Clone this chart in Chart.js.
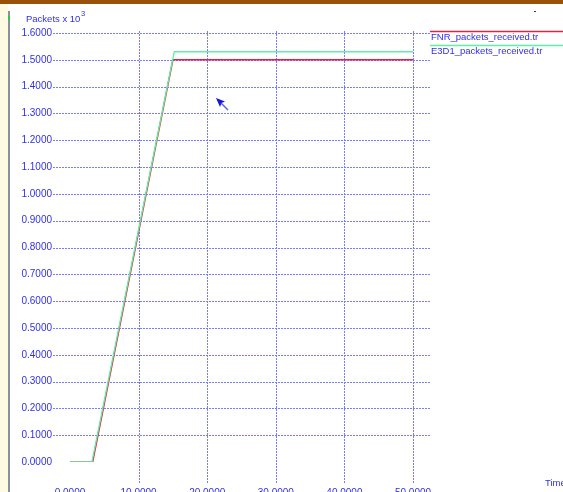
<!DOCTYPE html>
<html>
<head>
<meta charset="utf-8">
<script src="https://cdn.jsdelivr.net/npm/chart.js@4.4.1/dist/chart.umd.min.js"></script>
<style>
  html, body { margin: 0; padding: 0; background: #ffffff; overflow: hidden; }
  canvas { display: block; }
</style>
</head>
<body>
<canvas id="plot" width="563" height="492"></canvas>
<script>
// Received-packet traces (packets in thousands) against simulation time
const seriesNames = ['FNR_packets_received.tr', 'E3D1_packets_received.tr'];
const fnrTime = [0, 3.3, 15.0, 50];
const fnrPackets = [0, 0, 1.5, 1.5];
const e3d1Time = [0, 3.2, 15.2, 50];
const e3d1Packets = [0, 0, 1.53, 1.53];

// Axis tick values
const xTicks = [0, 10, 20, 30, 40, 50];
const yTicks = [0, 0.1, 0.2, 0.3, 0.4, 0.5, 0.6, 0.7, 0.8, 0.9, 1.0, 1.1, 1.2, 1.3, 1.4, 1.5, 1.6];

const TEXT_BLUE = '#3030e8';
const GRID_BLUE = '#7a7aff';
const FONT = '"Liberation Sans", Arial, sans-serif';

const toPoints = (xs, ys) => xs.map((x, i) => ({ x: x, y: ys[i] }));

// Window frame, dotted grid, legend, axis captions and pointer
const decor = {
  id: 'decor',
  beforeDraw(chart) {
    const ctx = chart.ctx;
    ctx.save();
    ctx.fillStyle = '#ffffff';
    ctx.fillRect(0, 0, chart.width, chart.height);
    // brown title strip
    ctx.fillStyle = '#9a520a';
    ctx.fillRect(0, 0, chart.width, 4);
    // cream margin and grey frame edge on the left
    ctx.fillStyle = '#fffbe2';
    ctx.fillRect(0, 4, 8, chart.height - 4);
    ctx.fillStyle = '#8b929b';
    ctx.fillRect(8, 11, 2, chart.height - 11);
    ctx.fillStyle = '#22cc44';
    ctx.fillRect(8, 16, 2, 4);
    ctx.restore();
  },
  beforeDatasetsDraw(chart) {
    const ctx = chart.ctx;
    const xs = chart.scales.x, ys = chart.scales.y;
    const area = chart.chartArea;
    ctx.save();
    ctx.strokeStyle = GRID_BLUE;
    ctx.lineWidth = 1;
    ctx.setLineDash([2, 1]);
    yTicks.forEach(v => {
      if (v === 0) return;
      const py = Math.round(ys.getPixelForValue(v)) + 0.5;
      ctx.beginPath();
      ctx.moveTo(area.left - 17, py);
      ctx.lineTo(area.right + 17, py);
      ctx.stroke();
    });
    xTicks.forEach(v => {
      if (v === 0) return;
      const px = Math.round(xs.getPixelForValue(v)) + 0.5;
      ctx.beginPath();
      ctx.moveTo(px, area.top - 2);
      ctx.lineTo(px, area.bottom + 21);
      ctx.stroke();
    });
    ctx.restore();
  },
  afterDraw(chart) {
    const ctx = chart.ctx;
    const area = chart.chartArea;
    ctx.save();
    // axis captions
    ctx.fillStyle = TEXT_BLUE;
    ctx.textBaseline = 'alphabetic';
    ctx.textAlign = 'left';
    ctx.font = '9.5px ' + FONT;
    ctx.fillText('Packets x 10', 26, 22);
    const w = ctx.measureText('Packets x 10').width;
    ctx.font = '7.5px ' + FONT;
    ctx.fillText('3', 26 + w + 0.5, 16);
    ctx.font = '9.5px ' + FONT;
    ctx.fillText('Time', 545, 486);

    // legend: one line sample and name per series
    const legendX = area.right + 17;
    chart.data.datasets.forEach((ds, i) => {
      const lineY = 31 + i * 14;
      ctx.strokeStyle = ds.borderColor;
      ctx.lineWidth = 1.5;
      ctx.beginPath();
      ctx.moveTo(legendX, lineY + 0.5);
      ctx.lineTo(chart.width, lineY + 0.5);
      ctx.stroke();
      ctx.fillStyle = TEXT_BLUE;
      ctx.font = '9.5px ' + FONT;
      ctx.textBaseline = 'middle';
      ctx.fillText(ds.label, legendX + 1, lineY + 6);
    });

    // small dash near the top right
    ctx.fillStyle = '#2222dd';
    ctx.fillRect(534, 11, 2, 1);

    // mouse pointer
    ctx.fillStyle = '#1414dd';
    ctx.beginPath();
    ctx.moveTo(216, 98);
    ctx.lineTo(225, 101.5);
    ctx.lineTo(221.5, 103);
    ctx.lineTo(220, 107);
    ctx.closePath();
    ctx.fill();
    ctx.strokeStyle = '#5a5af0';
    ctx.lineWidth = 1.4;
    ctx.beginPath();
    ctx.moveTo(221, 103);
    ctx.lineTo(228, 110);
    ctx.stroke();
    ctx.restore();
  }
};

new Chart(document.getElementById('plot'), {
  type: 'line',
  data: {
    datasets: [
      {
        label: seriesNames[0],
        data: toPoints(fnrTime, fnrPackets),
        borderColor: '#e8203c',
        borderWidth: 1.5,
        pointRadius: 0,
        fill: false,
        tension: 0,
        order: 1
      },
      {
        label: seriesNames[1],
        data: toPoints(e3d1Time, e3d1Packets),
        borderColor: '#5ef0a4',
        borderWidth: 1.3,
        pointRadius: 0,
        fill: false,
        tension: 0,
        order: 0
      }
    ]
  },
  options: {
    responsive: false,
    devicePixelRatio: 1,
    animation: false,
    events: [],
    layout: { padding: { top: 33, right: 150, bottom: 0, left: 0 } },
    plugins: {
      legend: { display: false },
      title: { display: false },
      tooltip: { enabled: false }
    },
    scales: {
      x: {
        type: 'linear',
        min: 0,
        max: 50,
        afterBuildTicks: s => { s.ticks = xTicks.map(v => ({ value: v })); },
        afterFit: s => { s.height = 30; },
        grid: { display: false, drawTicks: false },
        border: { display: false },
        ticks: {
          color: TEXT_BLUE,
          font: { family: FONT, size: 10 },
          padding: 25,
          maxRotation: 0,
          callback: v => Number(v).toFixed(4)
        }
      },
      y: {
        type: 'linear',
        min: 0,
        max: 1.6,
        afterBuildTicks: s => { s.ticks = yTicks.map(v => ({ value: v })); },
        afterFit: s => { s.width = 70; },
        grid: { display: false, drawTicks: false },
        border: { display: false },
        ticks: {
          color: TEXT_BLUE,
          font: { family: FONT, size: 10 },
          padding: 18,
          callback: v => Number(v).toFixed(4)
        }
      }
    }
  },
  plugins: [decor]
});
</script>
</body>
</html>
